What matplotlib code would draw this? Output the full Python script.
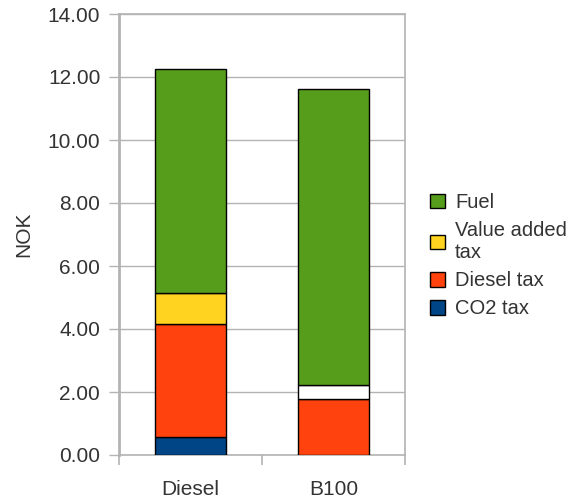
import matplotlib
matplotlib.use("Agg")
import matplotlib.pyplot as plt
from matplotlib.patches import Patch
from matplotlib.ticker import FormatStrFormatter, FixedLocator

plt.rcParams['font.family'] = ['Liberation Sans', 'DejaVu Sans']

categories = ["Diesel", "B100"]
co2_tax = [0.58, 0.0]
diesel_tax = [3.58, 1.77]
value_added_tax = [0.98, 0.45]
fuel = [7.11, 9.39]

c_fuel = "#579d1c"
c_vat = "#ffd320"
c_diesel = "#ff420e"
c_co2 = "#004586"
vat_colors = [c_vat, "#ffffff"]

grid_c = "#b3b3b3"
text_c = "#333333"

fig = plt.figure(figsize=(5.75, 5.0), dpi=100)
ax = fig.add_axes([119 / 575, 45 / 500, 286 / 575, 441 / 500])

x = list(range(len(categories)))
w = 0.5
edge = dict(edgecolor="black", linewidth=1.0, zorder=3)

bottom = [0.0] * len(x)
ax.bar(x, co2_tax, w, bottom=bottom, color=c_co2, **edge)
bottom = [b + v for b, v in zip(bottom, co2_tax)]
ax.bar(x, diesel_tax, w, bottom=bottom, color=c_diesel, **edge)
bottom = [b + v for b, v in zip(bottom, diesel_tax)]
ax.bar(x, value_added_tax, w, bottom=bottom, color=vat_colors, **edge)
bottom = [b + v for b, v in zip(bottom, value_added_tax)]
ax.bar(x, fuel, w, bottom=bottom, color=c_fuel, **edge)

ax.set_xlim(-0.5, len(x) - 0.5)
ax.set_ylim(0, 14)
ax.set_yticks([0, 2, 4, 6, 8, 10, 12, 14])
ax.yaxis.set_major_formatter(FormatStrFormatter("%.2f"))
ax.yaxis.grid(True, color=grid_c, linewidth=1.0, zorder=0)
ax.set_axisbelow(True)

# category boundaries carry the tick marks, labels sit at the centres
ax.xaxis.set_major_locator(FixedLocator([i - 0.5 for i in range(len(x) + 1)]))
ax.xaxis.set_major_formatter(plt.NullFormatter())
ax.xaxis.set_minor_locator(FixedLocator(x))
ax.set_xticklabels(categories, minor=True)
ax.tick_params(axis="x", which="major", length=7.5, width=1.2, color=grid_c, direction="out")
ax.tick_params(axis="x", which="minor", length=0, pad=18, labelsize=15, labelcolor=text_c)
ax.tick_params(axis="y", length=7.5, width=1.0, color=grid_c, pad=6, labelsize=15, labelcolor=text_c)

for s in ax.spines.values():
    s.set_color(grid_c)
    s.set_linewidth(1.2)
ax.spines["left"].set_linewidth(2.0)

ax.set_ylabel("NOK", fontsize=15, color=text_c, labelpad=10)

handles = [
    Patch(facecolor=c_fuel, edgecolor="black", linewidth=1.0, label="Fuel"),
    Patch(facecolor=c_vat, edgecolor="black", linewidth=1.0, label="Value added\ntax"),
    Patch(facecolor=c_diesel, edgecolor="black", linewidth=1.0, label="Diesel tax"),
    Patch(facecolor=c_co2, edgecolor="black", linewidth=1.0, label="CO2 tax"),
]
fig.legend(handles=handles, loc="upper left", bbox_to_anchor=(420 / 575, 1 - 183 / 500),
           frameon=False, fontsize=14.5, labelcolor=text_c, handlelength=0.75,
           handleheight=0.75, handletextpad=0.5, labelspacing=0.45, borderpad=0)

fig.savefig("out.png", dpi=100)
